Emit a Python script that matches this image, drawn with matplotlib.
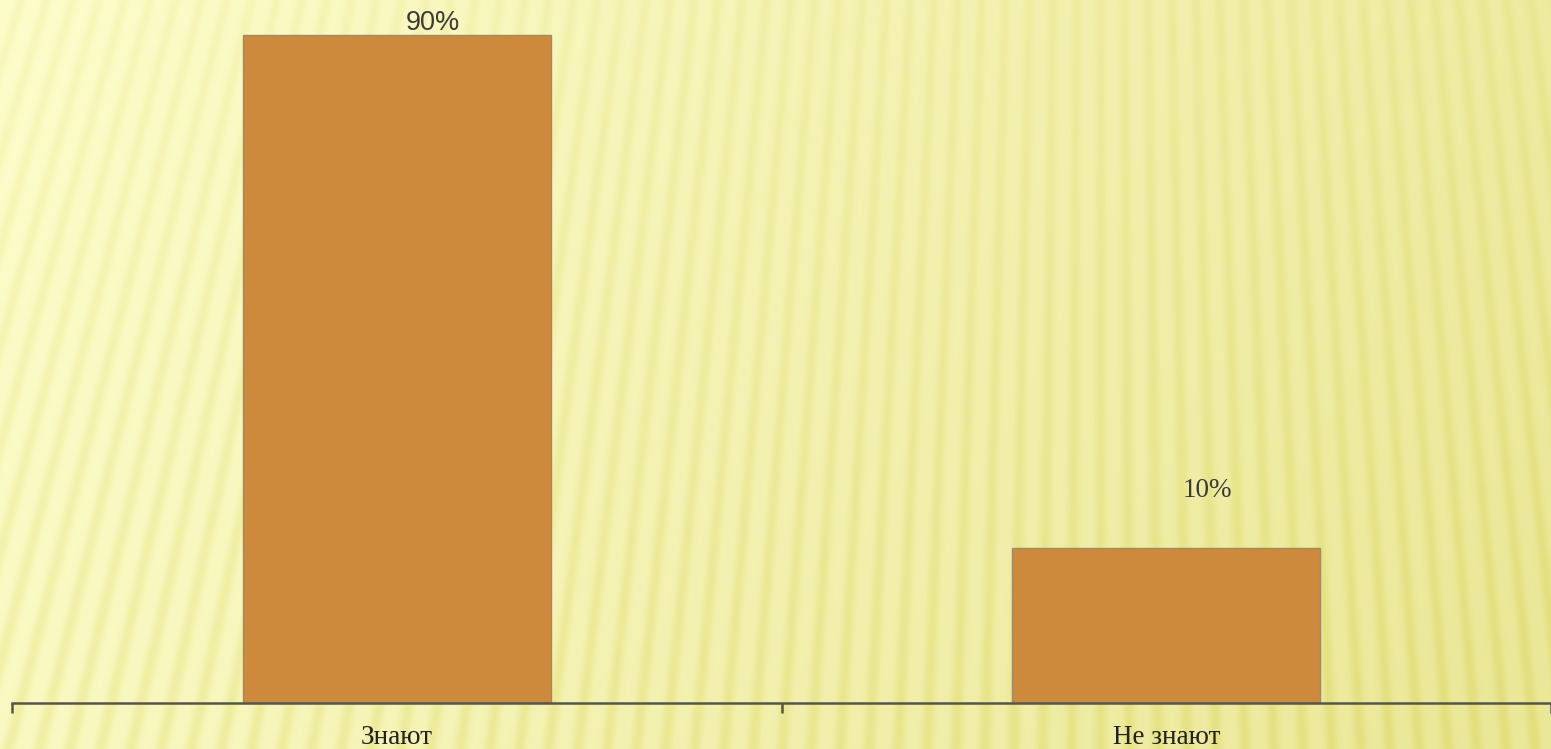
import matplotlib
matplotlib.use("Agg")
import matplotlib.pyplot as plt
import numpy as np

categories = ["Знают", "Не знают"]
values = [90, 10]
labels = ["90%", "10%"]

W, H = 1551, 749
bar_color = "#CE8A3C"
axis_color = "#55554A"

fig = plt.figure(figsize=(W / 100, H / 100), dpi=100)

# sunburst-like striped yellow background (decoration only)
bg = fig.add_axes([0, 0, 1, 1])
xx, yy = np.meshgrid(np.arange(W), np.arange(H))
cx, cy = 1100.0, -3500.0
theta = np.arctan2(xx - cx, yy - cy)
period = 0.0068
s = (0.5 + 0.5 * np.cos(2 * np.pi * theta / period)) ** 2
t = np.clip(xx / W * 0.85 + yy / H * 0.2, 0, 1)[..., None]
light = np.array([253, 253, 204]) / 255
dark = np.array([236, 232, 154]) / 255
base = light * (1 - t) + dark * t
amp = 0.55 + 0.45 * (yy / H)[..., None]
stripe = np.array([9, 9, 30]) / 255
img = np.clip(base - stripe * s[..., None] * amp, 0, 1)
bg.imshow(img, aspect="auto", interpolation="bilinear")
bg.axis("off")

# chart axes
ymin, ymax = -14.2, 95.5
ax = fig.add_axes([12 / W, 46 / H, (W - 12) / W, 703 / H])
ax.patch.set_alpha(0)
x = np.arange(len(categories))
ax.bar(x, [v - ymin for v in values], bottom=ymin, width=0.4,
       color=bar_color, edgecolor="#A08A62", linewidth=1, zorder=2)
ax.set_xlim(-0.5, len(categories) - 0.5)
ax.set_ylim(ymin, ymax)

for side in ["top", "right", "left"]:
    ax.spines[side].set_visible(False)
ax.spines["bottom"].set_color(axis_color)
ax.spines["bottom"].set_linewidth(1.8)
ax.set_yticks([])
ax.set_xticks(np.arange(-0.5, len(categories)), labels=[])
ax.tick_params(axis="x", which="major", length=7, width=1.8, color=axis_color)
ax.set_xticks(x, labels=categories, minor=True)
ax.tick_params(axis="x", which="minor", length=0, pad=15.5,
               labelsize=19.5, labelcolor="#222222")
for tl in ax.get_xticklabels(minor=True):
    tl.set_fontfamily("Liberation Serif")

# data labels (as placed in the original)
label_fonts = ["Liberation Sans", "Liberation Serif"]
label_offsets = [(26, 8.5), (29.5, 41)]
for xi, v, lab, fnt, off in zip(x, values, labels, label_fonts, label_offsets):
    ax.annotate(lab, (xi, v), xytext=off, textcoords="offset points",
                ha="center", va="center", fontsize=19.5, color="#3A3A3A",
                fontfamily=fnt, annotation_clip=False)

fig.savefig("out.png", dpi=100)
